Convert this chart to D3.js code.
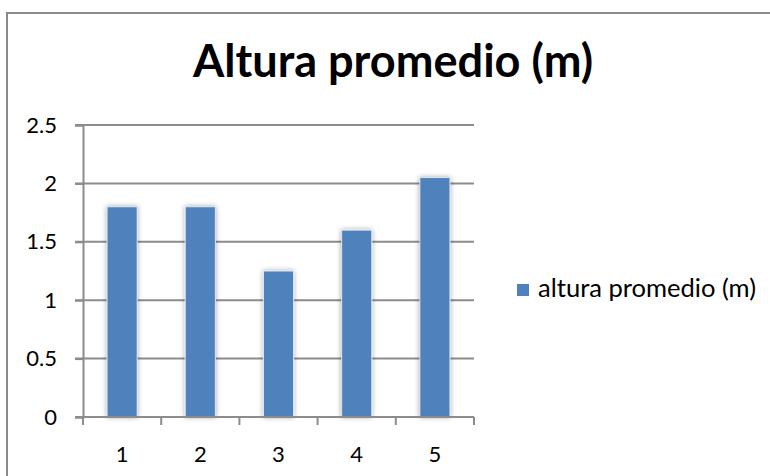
<!DOCTYPE html>
<html><head><meta charset="utf-8">
<script src="https://cdn.jsdelivr.net/npm/d3@7"></script>
<style>html,body{margin:0;padding:0;background:#fff;overflow:hidden}</style>
</head><body>
<svg id="c" width="770" height="476"></svg>
<script>
const categories = ["1", "2", "3", "4", "5"];
const values = [1.8, 1.8, 1.25, 1.6, 2.05];
const yTicks = [0, 0.5, 1, 1.5, 2, 2.5];
const seriesName = "altura promedio (m)";
const chartTitle = "Altura promedio (m)";

(function () {
const FONT = "Lato, 'Open Sans', sans-serif";
const svg = d3.select("#c");

function fitWidth(sel, target) {
  let fs = parseFloat(sel.attr("font-size"));
  for (let i = 0; i < 4; i++) {
    const w = sel.node().getComputedTextLength();
    if (w > 0) fs = fs * target / w;
    sel.attr("font-size", fs);
  }
}

// outer frame
svg.append("rect").attr("x", 7).attr("y", 13).attr("width", 800).attr("height", 500)
  .attr("fill", "#fff").attr("stroke", "#8a8a8a").attr("stroke-width", 2);

const defs = svg.append("defs");
const f = defs.append("filter").attr("id", "sh").attr("x", "-50%").attr("y", "-20%").attr("width", "200%").attr("height", "140%");
f.append("feDropShadow").attr("dx", 0).attr("dy", 0).attr("stdDeviation", 2.5).attr("flood-color", "#000").attr("flood-opacity", 0.35);

const pl = 83, pr = 474, pt = 125, pb = 417;
const x = d3.scaleBand().domain(categories).range([pl, pr]).paddingInner(0.615).paddingOuter(0.3075);
const y = d3.scaleLinear().domain([0, 2.5]).range([pb, pt]);

// gridlines
svg.append("g").selectAll("line").data(yTicks.filter(t => t > 0)).join("line")
  .attr("x1", pl - 8).attr("x2", pr).attr("y1", d => y(d)).attr("y2", d => y(d))
  .attr("stroke", "#8c8c8c").attr("stroke-width", 2);

// y axis
const yAxis = svg.append("g").attr("transform", `translate(${pl},0)`)
  .call(d3.axisLeft(y).tickValues(yTicks).tickSize(8).tickPadding(18).tickFormat(d => String(d)));
yAxis.select(".domain").attr("stroke", "#8c8c8c").attr("stroke-width", 2);
yAxis.selectAll(".tick line").attr("stroke", "#8c8c8c").attr("stroke-width", 2);
yAxis.selectAll("text").attr("font-family", FONT).attr("font-size", 22).attr("fill", "#000");

// bars
svg.append("g").selectAll("rect").data(values).join("rect")
  .attr("x", (d, i) => x(categories[i])).attr("width", x.bandwidth())
  .attr("y", d => y(d)).attr("height", d => y(0) - y(d))
  .attr("fill", "#4f81bd").attr("stroke", "#dce6f2").attr("stroke-width", 1)
  .attr("filter", "url(#sh)");

// x axis
const boundaries = d3.range(categories.length + 1).map(i => pl + i * x.step());
const xg = svg.append("g");
xg.append("line").attr("x1", pl - 8).attr("x2", pr).attr("y1", pb).attr("y2", pb)
  .attr("stroke", "#8c8c8c").attr("stroke-width", 2);
xg.selectAll(".tk").data(boundaries).join("line").attr("class", "tk")
  .attr("x1", d => d).attr("x2", d => d).attr("y1", pb).attr("y2", pb + 8)
  .attr("stroke", "#8c8c8c").attr("stroke-width", 2);
xg.selectAll("text").data(categories).join("text")
  .attr("x", d => x(d) + x.bandwidth() / 2).attr("y", 462)
  .attr("text-anchor", "middle").attr("font-family", FONT).attr("font-size", 22).attr("fill", "#000")
  .text(d => d);

// title
const t = svg.append("text").attr("x", 393).attr("y", 77).attr("text-anchor", "middle")
  .attr("font-family", FONT).attr("font-weight", "bold").attr("font-size", 38).attr("fill", "#000")
  .text(chartTitle);
fitWidth(t, 400);

// legend
svg.append("rect").attr("x", 517).attr("y", 284).attr("width", 12).attr("height", 12).attr("fill", "#4f81bd");
const lt = svg.append("text").attr("x", 538).attr("y", 297)
  .attr("font-family", FONT).attr("font-size", 19).attr("fill", "#000").text(seriesName);
fitWidth(lt, 218);
})();
</script>
</body></html>
